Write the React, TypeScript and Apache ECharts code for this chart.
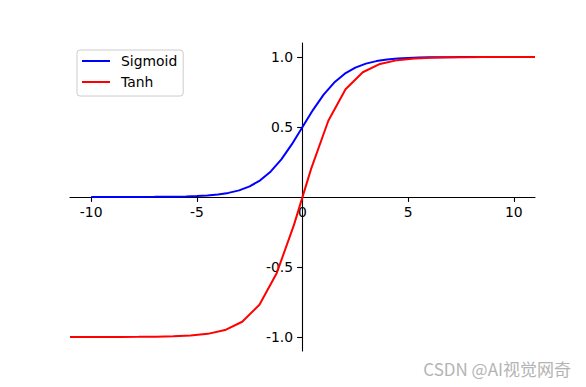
import React, { useEffect, useRef } from "react";
import * as echarts from "echarts";

const sigmoidX = [
  -10, -9.5, -9, -8.5, -8, -7.5, -7, -6.5, -6, -5.5, -5, -4.5, -4, -3.5, -3, -2.5, -2, -1.5, -1, -0.5,
  0, 0.5, 1, 1.5, 2, 2.5, 3, 3.5, 4, 4.5, 5, 5.5, 6, 6.5, 7, 7.5, 8, 8.5, 9, 9.5, 10,
];
const sigmoidY = [
  0.00005, 0.00007, 0.00012, 0.0002, 0.00034, 0.00055, 0.0009, 0.0015, 0.0025, 0.0041, 0.0067, 0.011,
  0.018, 0.0293, 0.0474, 0.0759, 0.1192, 0.1824, 0.2689, 0.3775, 0.5, 0.6225, 0.7311, 0.8176, 0.8808,
  0.9241, 0.9526, 0.9707, 0.982, 0.989, 0.9933, 0.9959, 0.9975, 0.9985, 0.9991, 0.9994, 0.9997, 0.9998,
  0.9999, 0.9999, 1.0,
];

// Tanh curve, 28 coarse samples from -11 to 11
const tanhX = [
  -11, -10.185, -9.37, -8.556, -7.741, -6.926, -6.111, -5.296, -4.481, -3.667, -2.852, -2.037, -1.222,
  -0.407, 0.407, 1.222, 2.037, 2.852, 3.667, 4.481, 5.296, 6.111, 6.926, 7.741, 8.556, 9.37, 10.185, 11,
];
const tanhY = [
  -1.0, -0.9999, -0.9998, -0.9996, -0.9991, -0.998, -0.9955, -0.99, -0.9776, -0.9507, -0.8909, -0.7694,
  -0.5447, -0.2009, 0.2009, 0.5447, 0.7694, 0.8909, 0.9507, 0.9776, 0.99, 0.9955, 0.998, 0.9991, 0.9996,
  0.9998, 0.9999, 1.0,
];

const xTicks = [-10, -5, 0, 5, 10];
const yTicks = [-1.0, -0.5, 0.5, 1.0];

const FONT = "DejaVu Sans";
const LINE_ICON = "path://M0,0H28V2H0Z";

export default function App() {
  const ref = useRef<HTMLDivElement>(null);
  useEffect(() => {
    if (!ref.current) return;
    const chart = echarts.init(ref.current, null, { renderer: "svg" });
    chart.setOption({
      animation: false,
      backgroundColor: "#ffffff",
      grid: { left: 70, right: 51, top: 43, bottom: 36, containLabel: false, outerBoundsMode: "none" },
      legend: {
        orient: "vertical",
        left: 77,
        top: 50,
        padding: [4, 6, 7, 5],
        itemWidth: 28,
        itemHeight: 14,
        itemGap: 7,
        borderColor: "#cccccc",
        borderWidth: 1,
        borderRadius: 3,
        backgroundColor: "rgba(255,255,255,0.8)",
        textStyle: { fontFamily: FONT, fontSize: 13.9, color: "#000", padding: [0, 0, 0, 6] },
        data: [
          { name: "Sigmoid", icon: LINE_ICON },
          { name: "Tanh", icon: LINE_ICON },
        ],
      },
      xAxis: {
        type: "value",
        min: -11,
        max: 11,
        position: "bottom",
        offset: -154,
        axisLine: { onZero: false, lineStyle: { color: "#000", width: 1.1 } },
        axisTick: { show: true, length: 4.9, customValues: xTicks, lineStyle: { color: "#000", width: 1.1 } },
        axisLabel: {
          customValues: xTicks,
          formatter: (v: number) => String(v),
          color: "#000",
          fontFamily: FONT,
          fontSize: 13.9,
          margin: 8,
        },
        splitLine: { show: false },
      },
      yAxis: {
        type: "value",
        min: -1.1,
        max: 1.1,
        position: "left",
        offset: -232,
        axisLine: { show: true, onZero: false, lineStyle: { color: "#000", width: 1.1 } },
        axisTick: { show: true, length: 4.9, customValues: yTicks, lineStyle: { color: "#000", width: 1.1 } },
        axisLabel: {
          customValues: yTicks,
          formatter: (v: number) => v.toFixed(1),
          color: "#000",
          fontFamily: FONT,
          fontSize: 13.9,
          margin: 9,
        },
        splitLine: { show: false },
      },
      series: [
        {
          name: "Sigmoid",
          type: "line",
          data: sigmoidX.map((x, i) => [x, sigmoidY[i]]),
          symbol: "none",
          lineStyle: { color: "#0000ff", width: 2 },
          itemStyle: { color: "#0000ff" },
        },
        {
          name: "Tanh",
          type: "line",
          data: tanhX.map((x, i) => [x, tanhY[i]]),
          symbol: "none",
          lineStyle: { color: "#ff0000", width: 2 },
          itemStyle: { color: "#ff0000" },
        },
      ],
      graphic: [
        {
          type: "text",
          right: 15,
          top: 360,
          style: {
            text: "CSDN @AI视觉网奇",
            fill: "#b4b4b4",
            font: '17px "Noto Sans CJK SC", "Noto Sans", sans-serif',
          },
        },
      ],
    });
    return () => chart.dispose();
  }, []);
  return <div ref={ref} style={{ width: 586, height: 387, position: "absolute", left: 0, top: 0 }} />;
}
